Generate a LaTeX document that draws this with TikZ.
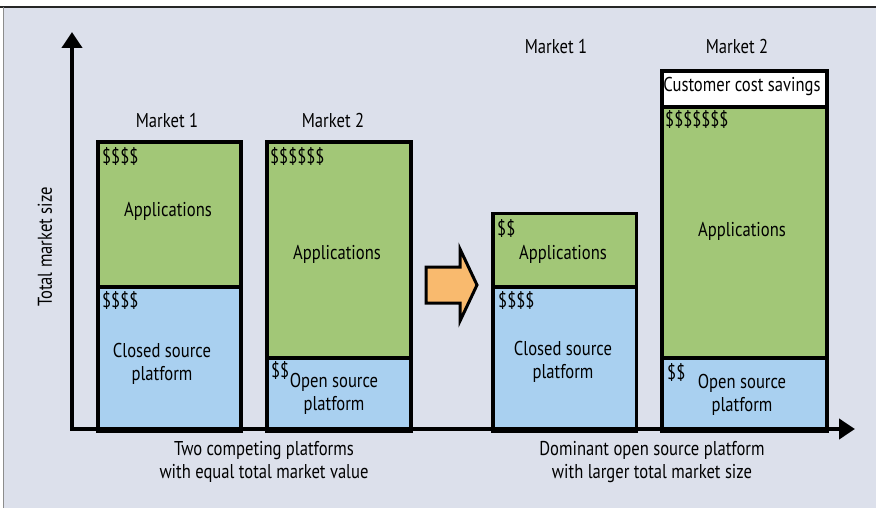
\documentclass[tikz,border=0pt]{standalone}
\usepackage{fontspec}
\setmainfont{PT Sans}[FakeStretch=0.83]
\usetikzlibrary{arrows.meta}
\definecolor{bgc}{RGB}{220,224,235}
\definecolor{appgreen}{RGB}{162,199,119}
\definecolor{platblue}{RGB}{169,208,240}
\definecolor{shiftorange}{RGB}{249,186,110}
\tikzset{
  seg/.style={draw=black, line width=3.8pt, inner sep=0pt, anchor=north west},
  txt/.style={inner sep=0pt, font=\fontsize{20}{23}\selectfont, align=center},
  money/.style={txt, anchor=west},
  axis/.style={line width=4.5pt, {Triangle[width=20pt,length=16pt]}-{Triangle[width=20pt,length=16pt]}},
}
\begin{document}
\begin{tikzpicture}[x=1pt,y=-1pt]
\useasboundingbox (0,0) rectangle (876,508);
% frame and background
\fill[white] (0,0) rectangle (876,508);
\fill[bgc] (3,7) rectangle (876,508);
\draw[black!85, line width=2pt] (0,7) -- (876,7);
\draw[black!45, line width=1pt] (3,7) -- (3,508);

% bar 1: closed source platform, market 1
\node[seg, fill=appgreen, minimum width=143pt, minimum height=144.5pt] (b1app) at (96,140.5) {};
\node[seg, fill=platblue, minimum width=143pt, minimum height=144pt] (b1plat) at (96,285) {};
% bar 2: open source platform, market 2
\node[seg, fill=appgreen, minimum width=144pt, minimum height=215.5pt] (b2app) at (265,140.5) {};
\node[seg, fill=platblue, minimum width=144pt, minimum height=73pt] (b2plat) at (265,356) {};
% bar 3: closed source platform, market 1
\node[seg, fill=appgreen, minimum width=143.5pt, minimum height=73.5pt] (b3app) at (491,211.5) {};
\node[seg, fill=platblue, minimum width=143.5pt, minimum height=144pt] (b3plat) at (491,285) {};
% bar 4: dominant open source platform, market 2
\node[seg, fill=white, minimum width=165pt, minimum height=35.5pt] (b4save) at (659.7,69.5) {};
\node[seg, fill=appgreen, minimum width=165pt, minimum height=251pt] (b4app) at (659.7,105) {};
\node[seg, fill=platblue, minimum width=165pt, minimum height=73pt] (b4plat) at (659.7,356) {};

% axes
\coordinate (ytop) at (72,32);
\coordinate (origin) at (72,429);
\coordinate (xend) at (855,429);
\draw[axis] (ytop) -- (origin) -- (xend);

% shift arrow
\filldraw[fill=shiftorange, draw=black, line width=3pt, line join=miter]
  (426,267) -- (460,267) -- (460,249) -- (477,285) -- (460,321) -- (460,303) -- (426,303) -- cycle;

% market labels
\node[txt] (m1a) at (167,121) {Market 1};
\node[txt] (m2a) at (333,121) {Market 2};
\node[txt] (m1b) at (556,47) {Market 1};
\node[txt] (m2b) at (737,47) {Market 2};

% bar 1 texts
\node[money] (d1a) at (102,157) {\$\$\$\$};
\node[txt] (t1a) at (168,211) {Applications};
\node[money] (d1b) at (102,300) {\$\$\$\$};
\node[txt] (t1b) at (162,364) {Closed source\\platform};
% bar 2 texts
\node[money] (d2a) at (270,157) {\$\$\$\$\$\$};
\node[txt] (t2a) at (337,254) {Applications};
\node[money] (d2b) at (271,370) {\$\$};
\node[txt] (t2b) at (334,394) {Open source\\platform};
% bar 3 texts
\node[money] (d3a) at (497,228) {\$\$};
\node[txt] (t3a) at (563,254) {Applications};
\node[money] (d3b) at (498,300) {\$\$\$\$};
\node[txt] (t3b) at (563,362) {Closed source\\platform};
% bar 4 texts
\node[txt] (t4s) at (742,87) {Customer cost savings};
\node[money] (d4a) at (665,120) {\$\$\$\$\$\$\$};
\node[txt] (t4a) at (742,231) {Applications};
\node[money] (d4b) at (667,372) {\$\$};
\node[txt] (t4b) at (742,395) {Open source\\platform};

% captions
\node[txt, rotate=90] (ylab) at (45,247) {Total market size};
\node[txt] (cap1) at (264,462) {Two competing platforms\\with equal total market value};
\node[txt] (cap2) at (652,462) {Dominant open source platform\\with larger total market size};
\end{tikzpicture}
\end{document}
